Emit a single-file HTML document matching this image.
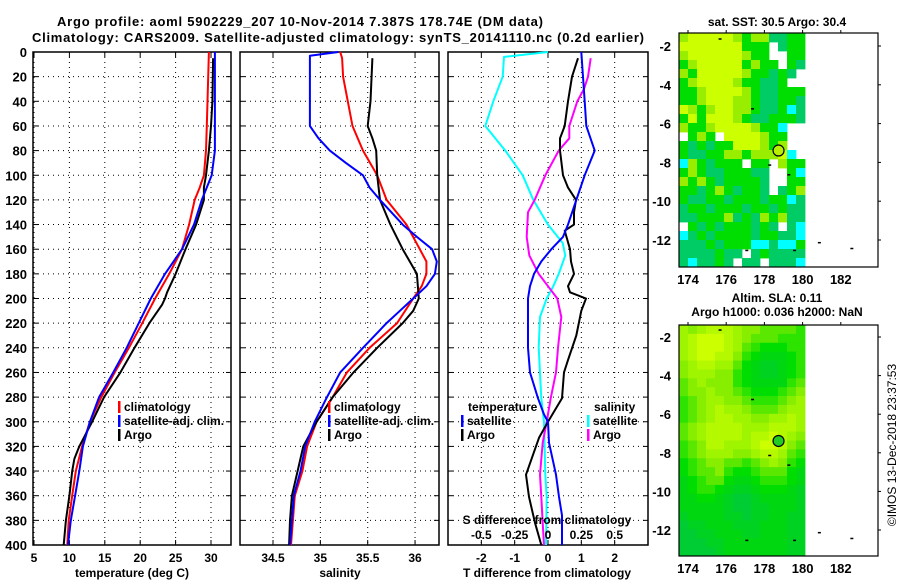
<!DOCTYPE html>
<html><head><meta charset="utf-8"><style>
html,body{margin:0;padding:0;background:#fff;}
svg{display:block;font-family:"Liberation Sans",sans-serif;font-weight:bold;}
</style></head><body>
<svg id="c" width="900" height="580" viewBox="0 0 900 580" xmlns="http://www.w3.org/2000/svg">
<text x="300" y="26" font-size="13" text-anchor="middle" textLength="486">Argo profile: aoml 5902229_207 10-Nov-2014 7.387S 178.74E (DM data)</text>
<text x="338" y="42" font-size="13" text-anchor="middle" textLength="612">Climatology: CARS2009. Satellite-adjusted climatology: synTS_20141110.nc (0.2d earlier)</text>
<text x="777" y="26" font-size="12" text-anchor="middle">sat. SST: 30.5 Argo: 30.4</text>
<text x="777" y="302" font-size="12" text-anchor="middle">Altim. SLA: 0.11</text>
<text x="777" y="316" font-size="12" text-anchor="middle">Argo h1000: 0.036 h2000: NaN</text>
<text transform="translate(896,445) rotate(-90)" font-size="12" font-weight="normal" text-anchor="middle">©IMOS 13-Dec-2018 23:37:53</text>
<g id="g"></g>
</svg>
<script>
// ---- Panel 1: temperature ----
const tClimDepth=[0,60,80,100,110,120,140,160,180,200,220,240,260,280,300,320,340,360,380,400];
const tClimVal=[29.7,29.4,29.3,29.0,28.4,27.7,26.9,25.9,24.1,22.1,20.3,18.4,16.4,14.5,12.9,11.8,10.9,10.4,9.9,9.7];
const tSatDepth=[0,80,100,120,140,160,180,200,220,240,260,280,300,320,340,360,380,400];
const tSatVal=[30.55,30.55,30.1,28.7,27.6,25.9,23.5,21.5,19.8,18.1,16.2,14.2,12.9,11.9,11.4,10.8,10.2,9.8];
const tArgoDepth=[5,40,60,80,100,110,120,140,160,180,195,200,205,220,240,260,280,300,320,330,340,360,380,400];
const tArgoVal=[30.3,30.2,30.0,29.7,29.3,29.0,29.0,27.9,26.4,25.0,23.8,23.5,23.1,21.3,19.2,17.2,14.9,13.2,11.4,10.7,10.4,10.0,9.5,9.2];
const tTicks=[5,10,15,20,25,30];
// ---- Panel 2: salinity ----
const sClimDepth=[0,5,20,40,60,80,100,120,140,160,170,180,190,200,220,240,260,280,300,320,340,360,380,400];
const sClimVal=[35.21,35.23,35.24,35.29,35.34,35.45,35.6,35.7,35.91,36.05,36.12,36.12,36.07,35.98,35.81,35.52,35.28,35.13,34.96,34.86,34.81,34.73,34.71,34.69];
const sSatDepth=[0,3,60,70,80,90,100,110,120,140,150,160,170,180,190,200,210,220,240,260,280,300,320,340,360,380,400];
const sSatVal=[35.19,34.89,34.89,34.98,35.1,35.27,35.45,35.52,35.63,35.87,36.02,36.18,36.23,36.21,36.12,35.98,35.84,35.7,35.45,35.21,35.07,34.94,34.84,34.79,34.72,34.70,34.68];
const sArgoDepth=[5,40,60,70,80,100,120,140,160,180,200,210,220,240,260,280,300,320,340,360,380,400];
const sArgoVal=[35.55,35.53,35.5,35.55,35.59,35.6,35.63,35.74,35.87,36.02,36.04,35.98,35.87,35.6,35.35,35.13,34.96,34.82,34.76,34.70,34.68,34.67];
const sTicks=[34.5,35,35.5,36];
// ---- Panel 3: differences ----
const dTSatDepth=[0,20,40,60,80,100,120,140,150,160,170,180,190,200,240,260,281,294,300,317,343,361,376,400];
const dTSatVal=[1.0,1.05,1.1,1.15,1.4,1.1,0.85,0.6,0.45,0.1,-0.2,-0.42,-0.54,-0.6,-0.6,-0.54,-0.3,-0.12,0,0.03,0.24,0.33,0.42,0.42];
const dTArgoDepth=[5,20,40,60,70,80,100,110,120,130,140,145,160,170,180,190,195,200,210,230,250,260,281,300,313,343,361,382,400];
const dTArgoVal=[0.9,0.72,0.6,0.5,0.36,0.36,0.45,0.6,0.84,0.78,0.78,0.5,0.66,0.69,0.78,0.6,0.66,1.14,1.0,0.85,0.6,0.48,0.42,0,-0.27,-0.66,-0.57,-0.39,-0.2];
const dSSatDepth=[0,4,20,40,60,80,100,120,140,155,165,180,190,200,215,240,281,300,343,361,400];
const dSSatVal=[0.0,-0.33,-0.34,-0.41,-0.47,-0.32,-0.19,-0.11,0.0,0.11,0.13,0.08,0.04,-0.01,-0.06,-0.07,-0.05,-0.03,-0.02,-0.01,-0.015];
const dSArgoDepth=[5,20,30,40,60,70,80,100,120,130,150,165,180,190,200,215,240,260,281,300,317,343,361,382,400];
const dSArgoVal=[0.32,0.3,0.27,0.22,0.16,0.16,0.08,-0.02,-0.1,-0.15,-0.16,-0.14,-0.07,0.0,0.07,0.1,0.075,0.06,0.02,-0.01,-0.04,-0.06,-0.05,-0.04,-0.03];
const dTTicks=[-2,-1,0,1,2];
const dSTicks=[-0.5,-0.25,0,0.25,0.5];
const dSTickLabels=["-0.5","-0.25","0","0.25","0.5"];
const depthTicks=[0,20,40,60,80,100,120,140,160,180,200,220,240,260,280,300,320,340,360,380,400];
// ---- Maps ----
const lonTicks=[174,176,178,180,182];
const latTicks=[-2,-4,-6,-8,-10,-12];
const argoLon=178.74, argoLat=-7.387;
const sstGrid=["LYYYYYLGLLTTGG","YYYYYYYGGG.TGG","LYYYYYYLGG..GG","GLYYYYYGLGG.GT","LGYYYYYLGGTGT.","GLYYYYLGGTTG..","GGLYYYYLGTTGGG","GGLYYYLLGTTGGT","YLGLYYLLGTTGCT","GYGYYYLGTTGGGT","LGGLYYYYLGGC..",".GLG.YYYYLGG..","GTGTGGYYYLGL..","GTTGGLLGLLLYC.","CLGTGGG.GG.LGG","GLGTTGGGTT..GC","LGLGTGGGGT..GG","GGTGLGTGGT.TGL","GTTGGTGGGTGGCT","TGGTGGGTGGTGTT","TTGGGLTGTLGLTT",".GTGTGGGTGT.TC","CTGTGGGGTGGTTC","TTTGTGGGCCTCCG","TTTTGTT.TGTTTT","TCTTGT.TT.TTTC"];
const slaGrid=["76788876655554","78999876555444","78999875433344","78998864322234","67887753211234","67776643211234","56766643222245","56676654333456","45677665444567","45678776555677","45678877667787","56788887778887","56788887889876","45688777899865","45677766788754","34566554567643","34556433455532","23455322344432","23443211233321","22332100122221","22222100112221","12222110112211","01122211122211","00112221122211","00011222222211","00001222222211"];

const NS="http://www.w3.org/2000/svg";
const G=document.getElementById('g');
function mk(tag,attrs,parent){const e=document.createElementNS(NS,tag);for(const k in attrs)e.setAttribute(k,attrs[k]);(parent||G).appendChild(e);return e;}
function tx(x,y,s,anchor,size,parent){const e=mk('text',{x:x,y:y,'font-size':size||12,'text-anchor':anchor||'middle'},parent);e.textContent=s;return e;}

const Y0=52,Y1=545;
function yD(d){return Y0+(Y1-Y0)*d/400;}
const panels=[
 {x0:33,x1:231,min:5-1/7.08,max:5+198/7.08-1/7.08,name:'temperature-panel'},
 {x0:240,x1:439,min:34.5-33/94.7,max:34.5+166/94.7,name:'salinity-panel'},
 {x0:448,x1:648,min:-3.0,max:3.0,name:'difference-panel'}
];
function xS(p,v){return p.x0+(v-p.min)/(p.max-p.min)*(p.x1-p.x0);}

panels.forEach((p,i)=>{
 const g=mk('g',{});
 
 
 depthTicks.forEach(d=>{
  if(d>0&&d<400){const l=mk('line',{x1:p.x0,x2:p.x1,y1:yD(d),y2:yD(d),stroke:'#000','stroke-width':1,'stroke-dasharray':'1,4'},g);
  }
  mk('line',{x1:p.x0,x2:p.x0+5,y1:yD(d),y2:yD(d),stroke:'#000'},g);
  mk('line',{x1:p.x1,x2:p.x1-5,y1:yD(d),y2:yD(d),stroke:'#000'},g);
 });
 const vt=i===0?tTicks:i===1?sTicks:dTTicks;
 vt.forEach(v=>{const x=xS(p,v);
  const l=mk('line',{x1:x,x2:x,y1:Y0,y2:Y1,stroke:'#000','stroke-width':1,'stroke-dasharray':'1,4'},g);
  
  mk('line',{x1:x,x2:x,y1:Y1,y2:Y1-5,stroke:'#000'},g);
  mk('line',{x1:x,x2:x,y1:Y0,y2:Y0+5,stroke:'#000'},g);
  const t=tx(x,562,String(v));
  
 });
 const fr=mk('rect',{x:p.x0,y:Y0,width:p.x1-p.x0,height:Y1-Y0,fill:'none',stroke:'#000','stroke-width':1.5},g);
 
});
depthTicks.forEach(d=>{const t=tx(27,yD(d)+5,String(d),'end',13);
 });

function line(p,depths,vals,color,name,scale){
 const pts=depths.map((d,k)=>xS(p,vals[k]*(scale||1)).toFixed(1)+','+yD(d).toFixed(1)).join(' ');
 const e=mk('polyline',{points:pts,fill:'none',stroke:color,'stroke-width':2,'stroke-linejoin':'round'});
 
}
line(panels[0],tClimDepth,tClimVal,'#ff0000','temp-climatology-line');
line(panels[0],tArgoDepth,tArgoVal,'#000','temp-argo-line');
line(panels[0],tSatDepth,tSatVal,'#0000ff','temp-satellite-line');
line(panels[1],sClimDepth,sClimVal,'#ff0000','salinity-climatology-line');
line(panels[1],sArgoDepth,sArgoVal,'#000','salinity-argo-line');
line(panels[1],sSatDepth,sSatVal,'#0000ff','salinity-satellite-line');
line(panels[2],dSSatDepth,dSSatVal,'#00ffff','s-diff-satellite-line',4);
line(panels[2],dSArgoDepth,dSArgoVal,'#ff00ff','s-diff-argo-line',4);
line(panels[2],dTArgoDepth,dTArgoVal,'#000','t-diff-argo-line');
line(panels[2],dTSatDepth,dTSatVal,'#0000ff','t-diff-satellite-line');

const st=tx(547,524,'S difference from climatology');

dSTicks.forEach((v,k)=>{const t=tx(xS(panels[2],v*4),539,dSTickLabels[k]);
 });
[['temperature (deg C)',132],['salinity',340],['T difference from climatology',547]].forEach(a=>{
 const t=tx(a[1],577,a[0]);});

function legend(x,y,color,label){
 const g=mk('g',{});
 
 mk('rect',{x:x,y:y-10,width:2.5,height:12,fill:color},g);
 tx(x+6,y,label,'start',12,g);
}
legend(118,411,'#ff0000','climatology');legend(118,425,'#0000ff','satellite-adj. clim.');legend(118,439,'#000','Argo');
legend(328,411,'#ff0000','climatology');legend(328,425,'#0000ff','satellite-adj. clim.');legend(328,439,'#000','Argo');
const lt=tx(468,411,'temperature','start');
legend(461,425,'#0000ff','satellite');legend(461,439,'#000','Argo');
const ls=tx(594,411,'salinity','start');
legend(587,425,'#00ffff','satellite');legend(587,439,'#ff00ff','Argo');

const sstCol={Y:'#ccff00',L:'#99ee00',G:'#00dd00',T:'#00cc66',C:'#00ffff'};
function slaCol(v){const a=[[0,0xcc,0x33],[0,0xdd,0],[0x88,0xee,0],[0xcc,0xff,0]];
 const f=v/3,i=Math.min(2,Math.floor(f)),t=f-i;const c=a[i].map((q,k)=>Math.round(q+(a[i+1][k]-q)*t));return 'rgb('+c.join(',')+')';}
function map(fy0,fy1,lat2y,dy,grid,colorFn,name,markFill){
 const fx0=679,fx1=878,dx0=679,dx1=805;
 const g=mk('g',{});
 const lonX=l=>688+(l-174)*19.1, latY=l=>lat2y+(-2-l)*dy;
 const rows=grid.length,cols=grid[0].length,cw=(dx1-dx0)/cols,ch=(fy1-fy0)/rows;
 grid.forEach((r,ri)=>{for(let ci=0;ci<cols;ci++){const col=colorFn(r[ci]);if(!col)continue;
  const c=mk('rect',{x:(dx0+ci*cw).toFixed(2),y:(fy0+ri*ch).toFixed(2),width:(cw+0.4).toFixed(2),height:(ch+0.4).toFixed(2),fill:col},g);
  }});
 mk('rect',{x:fx0,y:fy0,width:fx1-fx0,height:fy1-fy0,fill:'none',stroke:'#000','stroke-width':1.2},g);
 lonTicks.forEach(l=>{const x=lonX(l);mk('line',{x1:x,x2:x,y1:fy0,y2:fy0-3,stroke:'#000'},g);
  const t=tx(x,fy1+17,String(l),'middle',13,g);});
 latTicks.forEach(l=>{const y=latY(l);mk('line',{x1:fx1,x2:fx1+3,y1:y,y2:y,stroke:'#000'},g);
  const t=tx(671,y+5,String(l),'end',13,g);});
 const m=mk('circle',{cx:lonX(argoLon),cy:latY(argoLat),r:5.5,fill:markFill,stroke:'#000','stroke-width':1.2},g);
 
 [[180.8,-12.1],[182.5,-12.4],[179.5,-12.5],[177,-12.5],[175.6,-1.6],[178.2,-8.1],[179.2,-8.6],[177.3,-5.2]].forEach(p=>mk('rect',{x:lonX(p[0]),y:latY(p[1]),width:3,height:1.5,fill:'#000'},g));
}
map(33,267,46,19.4,sstGrid,c=>sstCol[c]||null,'sst-map','#b8f000');
map(325,556,337,19.3,slaGrid,c=>slaCol(+c),'sla-map','#22cc22');
</script>
</body></html>
